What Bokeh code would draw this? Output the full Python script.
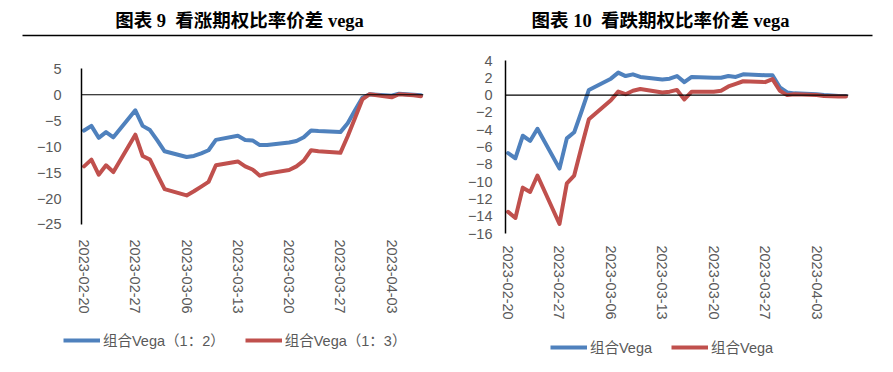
import pandas as pd
from bokeh.plotting import figure
from bokeh.layouts import column, row
from bokeh.models import (Range1d, FixedTicker, Span, Legend, LegendItem,
                          Label, BoxAnnotation)
from bokeh.embed import file_html
from bokeh.resources import INLINE

# ---------------- data ----------------
dates = ["2023-02-20", "2023-02-21", "2023-02-22", "2023-02-23", "2023-02-24",
         "2023-02-27", "2023-02-28", "2023-03-01", "2023-03-02", "2023-03-03",
         "2023-03-06", "2023-03-07", "2023-03-08", "2023-03-09", "2023-03-10",
         "2023-03-13", "2023-03-14", "2023-03-15", "2023-03-16", "2023-03-17",
         "2023-03-20", "2023-03-21", "2023-03-22", "2023-03-23", "2023-03-24",
         "2023-03-27", "2023-03-28", "2023-03-29", "2023-03-30", "2023-03-31",
         "2023-04-03", "2023-04-04", "2023-04-06", "2023-04-07"]

call_vega_12 = [-6.9, -6.0, -8.3, -7.2, -8.2, -3.0, -6.0, -6.8, -8.8, -10.9,
                -12.0, -11.8, -11.3, -10.7, -8.7, -7.9, -8.7, -8.8, -9.7, -9.7,
                -9.2, -8.9, -8.2, -6.9, -7.0, -7.2, -5.5, -3.0, -0.6, 0.1,
                -0.2, 0.2, 0.0, -0.1]
call_vega_13 = [-13.8, -12.5, -15.4, -13.6, -14.9, -7.7, -11.8, -12.5, -15.4, -18.2,
                -19.4, -18.6, -17.7, -16.8, -13.6, -12.85, -13.8, -14.4, -15.6, -15.2,
                -14.5, -13.8, -12.7, -10.7, -10.9, -11.2, -8.0, -4.5, -0.9, 0.1,
                -0.5, 0.1, -0.1, -0.3]
put_vega_a = [-6.7, -7.3, -4.7, -5.3, -3.9, -8.5, -5.0, -4.3, -1.9, 0.6,
              1.9, 2.6, 2.2, 2.4, 2.1, 1.8, 1.9, 2.2, 1.5, 2.1,
              2.0, 2.0, 2.2, 2.1, 2.4, 2.3, 2.3, 0.9, 0.3, 0.2,
              0.1, 0.0, -0.1, -0.1]
put_vega_b = [-13.5, -14.2, -10.7, -11.2, -9.3, -14.9, -10.2, -9.3, -6.0, -2.8,
              -0.6, 0.4, 0.1, 0.5, 0.7, 0.3, 0.4, 0.6, -0.5, 0.4,
              0.4, 0.5, 1.0, 1.3, 1.6, 1.5, 1.85, 0.5, 0.0, 0.1,
              0.0, -0.1, -0.15, -0.15]

tick_labels = ["2023-02-20", "2023-02-27", "2023-03-06", "2023-03-13",
               "2023-03-20", "2023-03-27", "2023-04-03"]
left_yticks = [5, 0, -5, -10, -15, -20, -25]
right_yticks = [4, 2, 0, -2, -4, -6, -8, -10, -12, -14, -16]

left_title = "图表 9\u00a0\u00a0看涨期权比率价差 vega"
right_title = "图表 10\u00a0\u00a0看跌期权比率价差 vega"
left_names = ["组合Vega（1：2）", "组合Vega（1：3）"]
right_names = ["组合Vega", "组合Vega"]

# ---------------- style ----------------
BLUE = "#4F81BD"
RED = "#C0504D"
GREY = "#595959"
FONT = "Liberation Sans, Noto Sans CJK SC"
TFONT = "Liberation Serif, Noto Sans CJK SC"
FS = "14.5px"

base = pd.Timestamp(dates[0])
xd = [(pd.Timestamp(d) - base).days for d in dates]
xt = [(pd.Timestamp(d) - base).days for d in tick_labels]

# both plot frames share the same vertical extent (row aligns them):
# page y 60 .. 233  (173 px)
FRAME_TOP, FRAME_H = 12, 173


def make_chart(width, b_left, frame_w, yrange, ybounds, yticks,
               s1, s2, ystand, xstand):
    height = 280
    p = figure(width=width, height=height, output_backend="svg", toolbar_location=None,
               x_range=Range1d(xd[0] - 0.35, xd[-1] + 0.35),
               y_range=Range1d(*yrange),
               min_border_left=b_left, min_border_right=width - b_left - frame_w,
               min_border_top=FRAME_TOP, min_border_bottom=height - FRAME_TOP - FRAME_H)
    p.outline_line_color = None
    p.grid.visible = False
    p.background_fill_color = None
    p.border_fill_color = None

    p.yaxis.ticker = FixedTicker(ticks=yticks)
    p.yaxis.bounds = ybounds
    p.yaxis.axis_line_color = "black"
    p.yaxis.axis_line_width = 1.5
    p.yaxis.major_tick_line_color = None
    p.yaxis.minor_tick_line_color = None
    p.yaxis.major_label_standoff = ystand
    p.yaxis.major_label_text_font_size = FS
    p.yaxis.major_label_text_color = GREY
    p.yaxis.major_label_text_font = FONT

    p.xaxis.ticker = FixedTicker(ticks=xt)
    p.xaxis.major_label_overrides = {t: lab for t, lab in zip(xt, tick_labels)}
    p.xaxis.major_label_orientation = "vertical"
    p.xaxis.axis_line_color = None
    p.xaxis.major_tick_line_color = None
    p.xaxis.minor_tick_line_color = None
    p.xaxis.major_label_standoff = xstand
    p.xaxis.major_label_text_font_size = FS
    p.xaxis.major_label_text_color = GREY
    p.xaxis.major_label_text_font = FONT

    p.add_layout(Span(location=0, dimension="width", line_color="black", line_width=1.2))

    p.line(xd, s1, line_color=BLUE, line_width=4, line_join="round", line_cap="round")
    p.line(xd, s2, line_color=RED, line_width=4, line_join="round", line_cap="round")
    return p


left = make_chart(446, 81, 342, (-26.74, 6.6), (-25, 5), left_yticks,
                  call_vega_12, call_vega_13, 14, 0)
right = make_chart(447, 59, 343, (-16, 4), (-16, 4), right_yticks,
                   put_vega_a, put_vega_b, 7, 6)

# ---------------- header (titles + rule) ----------------
header = figure(width=893, height=48, output_backend="svg", toolbar_location=None,
                x_range=Range1d(0, 893), y_range=Range1d(0, 48),
                x_axis_location=None, y_axis_location=None, min_border=0)
header.outline_line_color = None
header.grid.visible = False
for tx, ttl in [(239, left_title), (660, right_title)]:
    header.add_layout(Label(x=tx, y=28, x_units="screen", y_units="screen", text=ttl,
                            text_align="center", text_baseline="middle",
                            text_font=TFONT, text_font_style="bold",
                            text_font_size="18.5px", text_color="black"))
header.add_layout(BoxAnnotation(left=22, right=872, bottom=12.2, top=13.8,
                                left_units="screen", right_units="screen",
                                bottom_units="screen", top_units="screen",
                                fill_color="black", fill_alpha=1, line_color=None))

# ---------------- legends ----------------
legfig = figure(width=893, height=40, output_backend="svg", toolbar_location=None,
                x_range=Range1d(0, 893), y_range=Range1d(0, 40),
                x_axis_location=None, y_axis_location=None, min_border=0)
legfig.outline_line_color = None
legfig.grid.visible = False


def add_legend(names, sa, sb, loc, spacing):
    ra = legfig.line(xd, sa, line_color=BLUE, line_width=4, visible=False)
    rb = legfig.line(xd, sb, line_color=RED, line_width=4, visible=False)
    leg = Legend(items=[LegendItem(label=names[0], renderers=[ra]),
                        LegendItem(label=names[1], renderers=[rb])],
                 orientation="horizontal", location=loc,
                 glyph_width=37, glyph_height=20, label_standoff=3, spacing=spacing,
                 padding=0, margin=0, border_line_color=None,
                 background_fill_alpha=0, click_policy="none",
                 label_text_font_size=FS, label_text_color=GREY, label_text_font=FONT)
    legfig.add_layout(leg)


add_legend(left_names, call_vega_12, call_vega_13, (63, 18), 20)
add_legend(right_names, put_vega_a, put_vega_b, (550, 11), 19)

layout = column(header, row(left, right, spacing=0), legfig, spacing=0)
open("out.html", "w").write(file_html(layout, INLINE))
